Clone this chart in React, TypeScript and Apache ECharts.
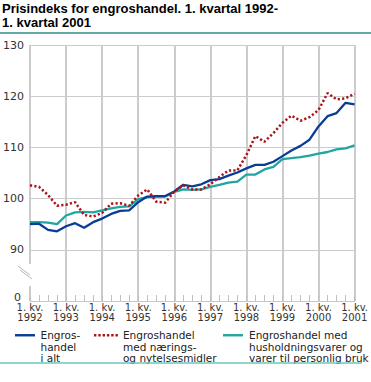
import { useEffect, useRef } from "react";
import * as echarts from "echarts";

const years = [1992, 1993, 1994, 1995, 1996, 1997, 1998, 1999, 2000, 2001];
const quarterNums = [1, 2, 3, 4];
const quarterLabels: string[] = years
  .flatMap((y) => quarterNums.map((q) => `${q}. kv.\n${y}`))
  .slice(0, 37);

const engrosIAlt = [
  95.0, 95.1, 93.9, 93.6, 94.6, 95.2, 94.3, 95.4, 96.1, 97.0, 97.6, 97.7,
  99.3, 100.4, 100.5, 100.5, 101.4, 102.7, 102.4, 102.8, 103.6, 103.8, 104.5,
  105.1, 105.9, 106.6, 106.6, 107.2, 108.3, 109.4, 110.3, 111.5, 114.1, 116.1,
  116.7, 118.7, 118.4,
];
const naeringsmidler = [
  102.6, 102.3, 100.7, 98.6, 98.8, 99.3, 96.8, 96.5, 97.2, 99.0, 99.1, 98.6,
  100.6, 101.8, 99.4, 99.2, 101.4, 102.6, 101.8, 101.8, 102.8, 104.2, 105.5,
  105.5, 108.5, 112.2, 111.1, 112.8, 114.8, 116.2, 115.2, 115.9, 117.3, 120.6,
  119.4, 119.6, 120.5,
];
const husholdning = [
  95.4, 95.4, 95.3, 95.0, 96.7, 97.3, 97.4, 97.3, 97.7, 98.1, 98.4, 98.5,
  99.9, 100.3, 100.4, 100.4, 101.3, 101.8, 101.7, 101.8, 102.3, 102.7, 103.1,
  103.3, 104.7, 104.7, 105.7, 106.2, 107.7, 107.9, 108.1, 108.4, 108.8, 109.1,
  109.6, 109.8, 110.4,
];

const seriesNames = [
  "Engroshandel i alt",
  "Engroshandel med nærings- og nytelsesmidler",
  "Engroshandel med husholdningsvarer og varer til personlig bruk",
];
const legendLabels = [
  "Engros-\nhandel\ni alt",
  "Engroshandel\nmed nærings-\nog nytelsesmidler",
  "Engroshandel med\nhusholdningsvarer og\nvarer til personlig bruk",
];
const legendLefts = [15, 94, 223];
const legendIconWidths = [21, 24, 22];

const titleText = "Prisindeks for engroshandel. 1. kvartal 1992-\n1. kvartal 2001";
const brokenAxisZeroLabel = "0";

const BLUE = "#083d94";
const RED = "#a8141c";
const TEAL = "#20a6a0";
const GRID = "#cccccc";
const AXIS_FONT = "DejaVu Sans";

const SOLID_ICON = "path://M0,0h20v2.4h-20z";
const DOT_ICON =
  "path://M0,0h2.4v2.4h-2.4z M4.3,0h2.4v2.4h-2.4z M8.6,0h2.4v2.4h-2.4z M12.9,0h2.4v2.4h-2.4z M17.2,0h2.4v2.4h-2.4z M21.5,0h2.4v2.4h-2.4z";
const legendIcons = [SOLID_ICON, DOT_ICON, SOLID_ICON];

export default function App() {
  const ref = useRef<HTMLDivElement>(null);

  useEffect(() => {
    if (!ref.current) return;
    const chart = echarts.init(ref.current, null, { renderer: "svg" });

    const legends = seriesNames.map((name, i) => ({
      data: [{ name, icon: legendIcons[i] }],
      left: legendLefts[i],
      top: 306.5,
      padding: 0,
      itemWidth: legendIconWidths[i],
      itemHeight: 2.4,
      selectedMode: false,
      // two leading empty lines so the first real line sits level with the icon
      formatter: () => "\n\n" + legendLabels[i],
      textStyle: {
        fontFamily: AXIS_FONT,
        fontSize: 10.5,
        lineHeight: 11.5,
        color: "#222",
      },
    }));

    chart.setOption({
      animation: false,
      backgroundColor: "#ffffff",
      title: {
        text: titleText,
        left: 2,
        top: 1,
        padding: 0,
        textStyle: {
          fontFamily: "Liberation Sans",
          fontWeight: "bold",
          fontSize: 13,
          lineHeight: 14,
          color: "#000",
        },
      },
      grid: { left: 27, right: 16, top: 45, bottom: 81, containLabel: false },
      xAxis: {
        type: "category",
        data: quarterLabels,
        boundaryGap: false,
        axisLine: { show: true, lineStyle: { color: "#c8c8c8", width: 1 } },
        axisTick: {
          show: true,
          inside: true,
          interval: 0,
          length: 6,
          lineStyle: { color: "#c0c0c0", width: 1 },
        },
        axisLabel: {
          interval: 3,
          margin: 1.5,
          fontFamily: AXIS_FONT,
          fontSize: 10,
          lineHeight: 10,
          color: "#333",
        },
        splitLine: {
          show: true,
          interval: 3,
          lineStyle: { color: GRID, width: 2 },
        },
      },
      yAxis: {
        type: "value",
        min: 80,
        max: 130,
        interval: 10,
        axisLine: { show: false },
        axisTick: { show: false },
        axisLabel: {
          margin: 6,
          fontFamily: AXIS_FONT,
          fontSize: 11,
          color: "#333",
          formatter: (v: number) => (v === 80 ? "" : String(v)),
        },
        splitLine: { show: true, lineStyle: { color: GRID, width: 1 } },
      },
      legend: legends,
      series: [
        {
          name: seriesNames[0],
          type: "line",
          data: engrosIAlt,
          symbol: "none",
          showSymbol: false,
          z: 3,
          lineStyle: { color: BLUE, width: 2.3 },
          itemStyle: { color: BLUE },
        },
        {
          name: seriesNames[1],
          type: "line",
          data: naeringsmidler,
          symbol: "none",
          showSymbol: false,
          z: 4,
          lineStyle: { color: RED, width: 2.5, type: [2.2, 2.2] },
          itemStyle: { color: RED },
        },
        {
          name: seriesNames[2],
          type: "line",
          data: husholdning,
          symbol: "none",
          showSymbol: false,
          z: 2,
          lineStyle: { color: TEAL, width: 2.3 },
          itemStyle: { color: TEAL },
        },
      ],
      graphic: [
        {
          type: "line",
          z: 100,
          shape: { x1: 0, y1: 33, x2: 371, y2: 33 },
          style: { stroke: "#2f8c88", lineWidth: 1.5 },
        },
        {
          type: "line",
          z: 100,
          shape: { x1: 0, y1: 363, x2: 362, y2: 363 },
          style: { stroke: "#6cc4bc", lineWidth: 1.5 },
        },
        {
          type: "rect",
          z: 100,
          shape: { x: 22, y: 264, width: 9, height: 22 },
          style: { fill: "#ffffff" },
        },
        {
          type: "line",
          z: 101,
          shape: { x1: 18, y1: 266, x2: 30, y2: 275 },
          style: { stroke: "#b4b4b4", lineWidth: 1 },
        },
        {
          type: "line",
          z: 101,
          shape: { x1: 20, y1: 270, x2: 32, y2: 279 },
          style: { stroke: "#b4b4b4", lineWidth: 1 },
        },
        {
          type: "text",
          z: 101,
          x: 21,
          y: 297.5,
          style: {
            text: brokenAxisZeroLabel,
            fontFamily: AXIS_FONT,
            fontSize: 11,
            lineHeight: 9,
            fill: "#333",
            align: "right",
            verticalAlign: "middle",
          },
        },
      ],
    });

    return () => chart.dispose();
  }, []);

  return (
    <div
      ref={ref}
      style={{ position: "absolute", left: 0, top: 0, width: 371, height: 382 }}
    />
  );
}
